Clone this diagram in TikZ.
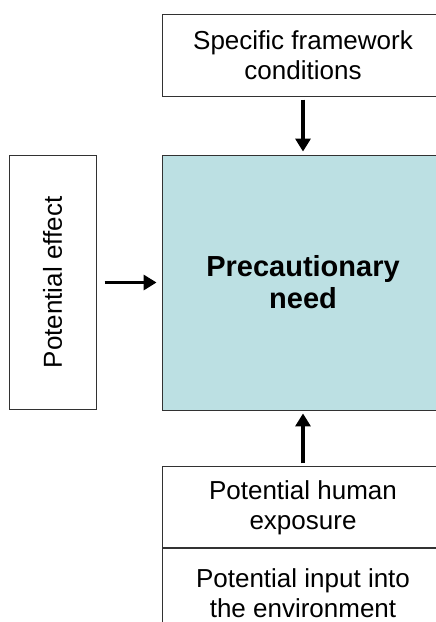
\documentclass[tikz,border=0pt]{standalone}
\usepackage{fontspec}
\setmainfont{Liberation Sans}
\usetikzlibrary{positioning, arrows.meta}
\definecolor{needfill}{RGB}{188,224,227}
\definecolor{boxline}{RGB}{50,50,50}
\tikzstyle{whitebox} = [rectangle, draw=boxline, line width=0.9pt, fill=white, align=center, inner sep=0pt, minimum width=282pt, font=\fontsize{26}{30}\selectfont]
\tikzstyle{needbox} = [rectangle, draw=boxline, line width=0.9pt, fill=needfill, align=center, inner sep=0pt, minimum width=282pt, minimum height=255pt, font=\fontsize{29}{32}\selectfont\bfseries]
\tikzstyle{arrow} = [line width=3.4pt, -{Triangle[length=13pt,width=15pt]}]

\begin{document}
\begin{tikzpicture}[x=1pt, y=-1pt]

      \clip (0,0) rectangle (436,622);
      \useasboundingbox (0,0) rectangle (436,622);

      \node (need) [needbox] at (303,282.5) {Precautionary\\need};
      \node (cond) [whitebox, minimum height=82pt, above=58pt of need] {Specific framework\\conditions};
      \node (effect) [whitebox, minimum width=87pt, minimum height=254pt, left=65pt of need] {\rotatebox{90}{Potential effect}};
      \node (exposure) [whitebox, minimum height=81pt, below=56pt of need] {Potential human\\exposure};
      \node (input) [whitebox, minimum height=88pt, below=0pt of exposure] {Potential input into\\the environment};

      \draw [arrow, shorten <=3pt, shorten >=3pt] (cond) -- (need);
      \draw [arrow, shorten <=8pt, shorten >=5pt] (effect) -- (need);
      \draw [arrow, shorten <=3pt, shorten >=3pt] (exposure) -- (need);
    \end{tikzpicture}
\end{document}
